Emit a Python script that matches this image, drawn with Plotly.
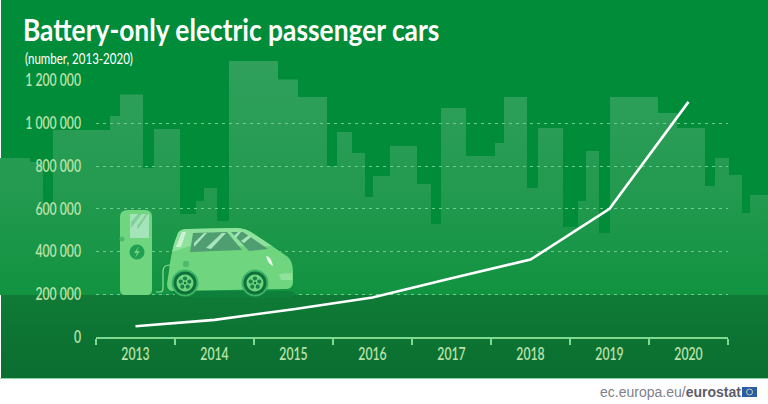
import plotly.graph_objects as go

years = ["2013", "2014", "2015", "2016", "2017", "2018", "2019", "2020"]
cars = [50000, 80000, 130000, 185000, 275000, 362000, 600000, 1100000]

y_ticks = [0, 200000, 400000, 600000, 800000, 1000000, 1200000]
y_labels = ["0", "200 000", "400 000", "600 000", "800 000", "1 000 000", "1 200 000"]

# background skyline, in pixels of the 768x404 page
skyline_left = [0, 30, 43, 53, 110, 120, 143, 154, 180, 196, 204, 217, 229, 278, 298, 327, 337,
                352, 365, 373, 390, 417, 431, 441, 466, 495, 504, 527, 538, 563, 578, 586, 599,
                610, 658, 677, 705, 715, 729, 742, 750]
skyline_top = [158, 162, 204, 130, 116, 94.5, 168, 129, 214, 201, 188, 221, 61, 79.5, 97, 166, 132,
               153, 197, 176, 146, 184, 224, 108, 156, 143, 97, 188, 128, 227, 201, 151, 233,
               97, 113, 128, 186, 158, 175, 213, 195]
skyline_right = 768
band_top = 295
band_bottom = 378

sx = [0]
sy = [band_top]
for i, left in enumerate(skyline_left):
    right = skyline_left[i + 1] if i + 1 < len(skyline_left) else skyline_right
    sx += [left, right]
    sy += [skyline_top[i], skyline_top[i]]
sx.append(skyline_right)
sy.append(band_top)

FONT = "Lato"
BODY = "#6FD57F"
LIGHT = "#8FE29B"
WINDOW = "#4F9E72"
STREAK = "#A9E4BC"
TIRE = "#0E7139"
TEXT = "#B9E2A9"
GRID = "#6FCB8E"

# no condensed font is installed, so squeeze the text horizontally around its anchor
SQUEEZE = """
document.body.style.margin = '0';
document.querySelectorAll('.x2tick text, .y2tick text, .annotation-text').forEach(function (t) {
    var k = 0.72;
    if (t.textContent.indexOf('Battery') === 0) k = 0.85;
    if (t.textContent.indexOf('ec.europa') === 0) k = 1;
    var x = t.getAttribute('x') || 0;
    var old = t.getAttribute('transform') || '';
    t.setAttribute('transform', old + ' translate(' + x + ',0) scale(' + k + ',1) translate(' + (-x) + ',0)');
});
"""

fig = go.Figure()

fig.add_trace(go.Scatter(
    x=sx, y=sy, mode="lines", fill="toself", line=dict(width=0),
    fillgradient=dict(type="vertical", start=61, stop=band_top,
                      colorscale=[[0, "#30A05C"], [0.55, "#239A50"], [1, "#119340"]]),
    hoverinfo="skip", xaxis="x", yaxis="y",
))
fig.add_trace(go.Scatter(
    x=[1, 768, 768, 1, 1], y=[band_top, band_top, band_bottom, band_bottom, band_top],
    mode="lines", fill="toself", line=dict(width=0),
    fillgradient=dict(type="vertical", start=band_top, stop=band_bottom,
                      colorscale=[[0, "#0F7A36"], [1, "#0A6E30"]]),
    hoverinfo="skip", xaxis="x", yaxis="y",
))

fig.add_trace(go.Scatter(
    x=years, y=cars, mode="lines", line=dict(color="white", width=2.6),
    xaxis="x2", yaxis="y2",
))

shapes = []


def path(d, color, layer="above"):
    shapes.append(dict(type="path", path=d, fillcolor=color, line=dict(width=0),
                       xref="x", yref="y", layer=layer))


def circle(cx, cy, r, color):
    shapes.append(dict(type="circle", x0=cx - r, x1=cx + r, y0=cy - r, y1=cy + r,
                       fillcolor=color, line=dict(width=0), xref="x", yref="y", layer="above"))


def wheel(cx, cy):
    circle(cx, cy, 13.5, "#3DB567")
    circle(cx, cy, 11.5, TIRE)
    circle(cx, cy, 8.5, BODY)
    for dx, dy in [(0, -4.5), (4.3, -1.4), (2.7, 3.7), (-2.7, 3.7), (-4.3, -1.4)]:
        circle(cx + dx, cy + dy, 2.1, "#1B8248")
    circle(cx, cy, 1.2, TIRE)


# page background and edges
shapes.append(dict(type="rect", xref="paper", yref="paper", x0=1 / 768, x1=1, y0=(404 - 295) / 404, y1=1,
                   fillcolor="#008C38", line=dict(width=0), layer="below"))
shapes.append(dict(type="rect", xref="paper", yref="paper", x0=0, x1=1, y0=(404 - 379) / 404, y1=(404 - 378) / 404,
                   fillcolor="#8FD6A0", line=dict(width=0), layer="below"))

# charger
path("M 156 292 L 160 292 Q 163 292 163 288 L 163 271 Q 163 265 170 265 L 185 265", "rgba(0,0,0,0)")
shapes[-1]["line"] = dict(color=LIGHT, width=1.2)
path("M 120 217 Q 120 210 128 210 L 145 210 Q 152 210 152 217 L 152 290 Q 152 295 147 295 "
     "L 125 295 Q 120 295 120 290 Z", BODY)
path("M 130 214 L 149 214 L 149 238 L 130 238 Z", "#A5E3B9")
path("M 131 222 L 138 214 L 142 214 L 131 228 Z", "#7FCF9A")
path("M 137 226 L 146 214 L 148 214 L 138 229 Z", "#7FCF9A")
circle(137, 252, 7.5, "#1FA052")
path("M 139 246 L 134 253 L 137 253 L 135 258 L 140 251 L 137 251 Z", BODY)
circle(122, 239, 2.5, "#4CBB6E")

# car
path("M 172 291 L 292 291 L 296 295 L 288 298 L 200 298 L 176 296 Z", "#0F7F3C")
path("M 178 233 Q 180 229 188 229 L 236 228 Q 246 228 254 234 L 272 246 L 288 257 Q 293 262 293 272 "
     "L 293 283 Q 292 289 286 289 L 172 291 Q 167 290 167 284 L 169 271 Q 171 250 178 233 Z", BODY)
path("M 178 233 Q 180 229 188 229 L 236 228 Q 246 228 254 234 L 272 246 L 262 246 L 190 246 L 172 252 Q 174 242 178 233 Z", LIGHT)
path("M 176 247 L 182 232 L 186 232 L 181 247 Z", "#D0F0D6")
path("M 193 233 L 227 232 L 242 250 L 190 252 Z", WINDOW)
path("M 194 243 L 204 233 L 207 233 L 194 247 Z", STREAK)
path("M 206 248 L 222 233 L 226 233 L 211 249 Z", STREAK)
path("M 231 232 L 243 232 L 268 249 L 249 251 Z", WINDOW)
path("M 234 236 L 238 232 L 241 232 L 236 238 Z", STREAK)
path("M 241 241 L 249 235 L 251 237 L 244 243 Z", STREAK)
circle(186, 264, 3.2, "#4CBB6E")
path("M 266 256 Q 271 256 273 266 Q 268 264 266 256 Z", "#EAF8EC")
path("M 279 274 L 292 273 L 292 280 L 281 280 Z", LIGHT)
wheel(185, 283)
wheel(255, 283)

# eurostat flag
shapes.append(dict(type="rect", xref="x", yref="y", x0=742, x1=757, y0=387, y1=397,
                   fillcolor="#2A5DA8", line=dict(width=0), layer="above"))
shapes.append(dict(type="circle", xref="x", yref="y", x0=746.5, x1=752.5, y0=389, y1=395,
                   fillcolor="rgba(0,0,0,0)", line=dict(color="#C9D6A0", width=1), layer="above"))

annotations = [
    dict(text="<b>Battery-only electric passenger cars</b>", x=231, y=29, xref="x", yref="y",
         xanchor="center", yanchor="middle", showarrow=False,
         font=dict(family=FONT, size=31, color="white")),
    dict(text="(number, 2013-2020)", x=79, y=57, xref="x", yref="y",
         xanchor="center", yanchor="middle", showarrow=False,
         font=dict(family=FONT, size=16, color="white")),
    dict(text="ec.europa.eu/<b><span style='color:#5C5C6C'>eurostat</span></b>", x=743, y=392, xref="x", yref="y",
         xanchor="right", yanchor="middle", showarrow=False,
         font=dict(family="Liberation Sans", size=14, color="#80808A")),
]

fig.update_layout(
    template="none",
    width=768,
    height=404,
    margin=dict(l=0, r=0, t=0, b=0),
    paper_bgcolor="white",
    plot_bgcolor="rgba(0,0,0,0)",
    showlegend=False,
    shapes=shapes,
    annotations=annotations,
    font=dict(family=FONT),
    xaxis=dict(domain=[0, 1], range=[0, 768], visible=False, fixedrange=True, automargin=False),
    yaxis=dict(domain=[0, 1], range=[404, 0], visible=False, fixedrange=True, automargin=False),
    xaxis2=dict(
        domain=[96 / 768, 728 / 768],
        anchor="y2",
        type="category",
        range=[-0.5, 7.5],
        tickson="boundaries",
        ticks="outside",
        ticklen=6,
        tickwidth=1.5,
        tickcolor="#7FD98F",
        showline=True,
        linecolor="#7FD98F",
        linewidth=1.5,
        showgrid=False,
        automargin=False,
        ticklabelstandoff=1,
        tickfont=dict(size=17, color=TEXT, weight=600),
    ),
    yaxis2=dict(
        domain=[(404 - 337) / 404, (404 - 80.5) / 404],
        anchor="x2",
        range=[0, 1200000],
        tickmode="array",
        tickvals=y_ticks,
        ticktext=y_labels,
        tickfont=dict(size=17, color=TEXT, weight=600),
        ticklabelstandoff=14,
        showgrid=True,
        gridcolor=GRID,
        gridwidth=1,
        griddash="3px,4px",
        zeroline=False,
        showline=False,
        automargin=False,
    ),
)

fig.write_html("out.html", config=dict(displayModeBar=False), post_script=SQUEEZE)
